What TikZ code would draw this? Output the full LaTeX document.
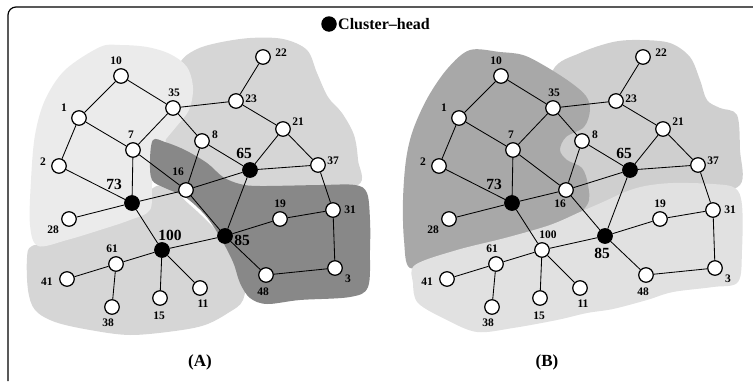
\documentclass[tikz,border=0pt]{standalone}
\usepackage{fontspec}
\setmainfont{Liberation Serif}
\begin{document}
\begin{tikzpicture}[x=1pt,y=-1pt]
\tikzset{
 vtx/.style={circle,draw,line width=1.25pt,fill=white,minimum size=14.5pt,inner sep=0pt},
 head/.style={vtx,fill=black},
 lbl/.style={font=\bfseries\fontsize{11.5}{12}\selectfont,inner sep=0pt},
 biglbl/.style={font=\bfseries\fontsize{15.5}{16}\selectfont,inner sep=0pt},
 edge/.style={line width=0.85pt},
 blob/.style={smooth cycle,tension=0.55},
}
\definecolor{lightA}{HTML}{EBEBEB}
\definecolor{medA}{HTML}{D6D6D6}
\definecolor{darkA}{HTML}{888888}
\definecolor{medB}{HTML}{CFCFCF}
\definecolor{darkB}{HTML}{A8A8A8}
\definecolor{lightB}{HTML}{E1E1E1}
\useasboundingbox (0,0) rectangle (753,383);
\newcommand{\gnodes}[2]{%
 \node[vtx] (#1-10) at (121,76) {};
 \node[vtx] (#1-35) at (173,108) {};
 \node[vtx] (#1-23) at (236,101) {};
 \node[vtx] (#1-22) at (263,57) {};
 \node[vtx] (#1-1) at (79,118) {};
 \node[vtx] (#1-7) at (133,150) {};
 \node[vtx] (#1-8) at (202,141) {};
 \node[vtx] (#1-21) at (283,129) {};
 \node[vtx] (#1-2) at (59,166) {};
 \node[head] (#1-65) at (250,170) {};
 \node[vtx] (#1-37) at (318,165) {};
 \node[vtx] (#1-16) at (186,190) {};
 \node[head] (#1-73) at (132,203) {};
 \node[vtx] (#1-28) at (69,219) {};
 \node[vtx] (#1-19) at (280,219) {};
 \node[vtx] (#1-31) at (333,210) {};
 \node[#2] (#1-100) at (162,250) {};
 \node[head] (#1-85) at (225,236) {};
 \node[vtx] (#1-61) at (116,264) {};
 \node[vtx] (#1-41) at (67,279) {};
 \node[vtx] (#1-48) at (266,275) {};
 \node[vtx] (#1-3) at (335,268) {};
 \node[vtx] (#1-11) at (200,288) {};
 \node[vtx] (#1-15) at (160,298) {};
 \node[vtx] (#1-38) at (112,307) {};
 \foreach \u/\v in {10/1,10/35,1/2,1/7,35/7,35/23,35/8,23/22,23/21,21/65,21/37,65/37,8/65,8/16,7/73,7/16,2/73,73/16,16/65,16/85,65/85,73/28,73/100,100/61,100/85,100/15,100/11,61/41,61/38,85/19,85/48,19/31,31/37,31/3,48/3}
   \draw[edge] (#1-\u) -- (#1-\v);
 \node[lbl] (#1-l10) at (116,61) {10};
 \node[lbl] (#1-l35) at (174,93) {35};
 \node[lbl] (#1-l1) at (64,108) {1};
 \node[lbl] (#1-l7) at (131,135) {7};
 \node[lbl] (#1-l2) at (43,162) {2};
 \node[biglbl] (#1-l73) at (114,184) {73};
 \node[lbl] (#1-l28) at (53,230) {28};
 \node[lbl] (#1-l22) at (281,53) {22};
 \node[lbl] (#1-l23) at (251,99) {23};
 \node[lbl] (#1-l21) at (298,122) {21};
 \node[lbl] (#1-l8) at (215,135) {8};
 \node[biglbl] (#1-l65) at (244,153) {65};
 \node[lbl] (#1-l37) at (333,161) {37};
 \node[lbl] (#1-l19) at (280,204) {19};
 \node[lbl] (#1-l31) at (350,210) {31};
 \node[lbl] (#1-l61) at (112,249) {61};
 \node[lbl] (#1-l41) at (47,282) {41};
 \node[lbl] (#1-l38) at (108,323) {38};
 \node[lbl] (#1-l15) at (159,316) {15};
 \node[lbl] (#1-l11) at (203,304) {11};
 \node[lbl] (#1-l48) at (263,292) {48};
 \node[lbl] (#1-l3) at (348,279) {3};
}
% frame
\draw[line width=1.2pt,rounded corners=8pt] (760,7) -- (8,7) -- (8,381);
% legend
\node[circle,fill=black,minimum size=15.5pt,inner sep=0pt] (legdot) at (329,24) {};
\node[font=\bfseries\fontsize{16}{17}\selectfont,anchor=west,inner sep=0pt] (legtxt) at (338,24) {Cluster–head};
% ---------- panel A ----------
\fill[medA] plot[blob] coordinates {(180,63) (195,50) (217,43) (250,38) (283,39) (307,50) (317,73) (328,97) (342,113) (354,135) (358,160) (358,185) (300,192) (230,190) (175,170) (165,130) (172,95)};
\fill[medA] plot[blob] coordinates {(27,258) (28,290) (35,310) (55,322) (90,330) (130,335) (175,331) (205,325) (228,313) (243,300) (245,270) (225,240) (190,205) (160,185) (120,215) (60,240) (32,246)};
\fill[lightA] plot[blob] coordinates {(100,47) (120,45) (147,47) (170,54) (187,67) (193,88) (189,110) (176,127) (162,145) (155,165) (152,185) (150,210) (130,220) (100,230) (67,240) (38,246) (30,225) (31,180) (35,135) (45,100) (65,70)};
\fill[darkA] plot[blob] coordinates {(153,140) (165,142) (185,150) (207,163) (223,177) (240,184) (260,186) (320,185) (355,185) (367,193) (370,220) (370,250) (368,287) (350,297) (300,300) (267,304) (250,298) (240,283) (233,262) (220,237) (205,215) (185,197) (165,188) (152,180) (150,160)};
\gnodes{A}{head}
\node[biglbl] (A-l100) at (170,235) {100};
\node[biglbl] (A-l85) at (242,240) {85};
\node[lbl] (A-l16) at (178,172) {16};
\node[font=\bfseries\fontsize{17}{18}\selectfont,inner sep=0pt] (capA) at (200,362) {(A)};
% ---------- panel B ----------
\fill[medB] plot[blob] coordinates {(553,70) (580,53) (613,42) (640,40) (670,43) (690,57) (700,80) (707,100) (720,108) (737,115) (740,150) (740,185) (700,195) (620,210) (580,215) (555,180) (545,120)};
\fill[darkB] plot[blob] coordinates {(470,50) (500,52) (523,55) (545,66) (570,82) (586,96) (590,110) (584,127) (566,137) (560,150) (567,160) (582,168) (588,185) (587,205) (560,228) (500,243) (440,258) (410,268) (404,240) (403,200) (406,160) (413,130) (428,97) (448,68)};
\fill[lightB] plot[blob] coordinates {(415,265) (457,250) (505,238) (550,225) (580,212) (603,202) (625,192) (645,186) (673,183) (713,184) (735,188) (742,205) (742,250) (738,282) (713,287) (673,292) (647,300) (613,309) (587,313) (557,320) (513,328) (477,332) (447,320) (418,303) (413,283)};
\begin{scope}[shift={(380,0)}]
\gnodes{B}{vtx}
\node[lbl] (B-l100) at (168,235) {100};
\node[biglbl] (B-l85) at (222,253) {85};
\node[lbl] (B-l16) at (180,204) {16};
\end{scope}
\node[font=\bfseries\fontsize{17}{18}\selectfont,inner sep=0pt] (capB) at (547,362) {(B)};
\end{tikzpicture}
\end{document}
